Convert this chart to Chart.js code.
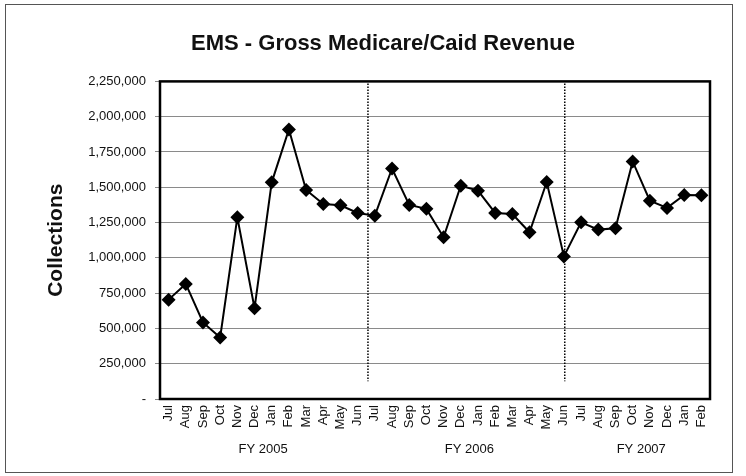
<!DOCTYPE html>
<html>
<head>
<meta charset="utf-8">
<script src="https://cdn.jsdelivr.net/npm/chart.js@4.4.1/dist/chart.umd.min.js"></script>
<style>
html, body { margin: 0; padding: 0; background: #fff; }
#wrap { width: 746px; height: 476px; }
</style>
</head>
<body>
<div id="wrap"><canvas id="chart"></canvas></div>
<script>
// month labels, Jul 2004 - Feb 2007
var months = ['Jul','Aug','Sep','Oct','Nov','Dec','Jan','Feb','Mar','Apr','May','Jun',
              'Jul','Aug','Sep','Oct','Nov','Dec','Jan','Feb','Mar','Apr','May','Jun',
              'Jul','Aug','Sep','Oct','Nov','Dec','Jan','Feb'];

// gross medicare/caid collections
var collections = [704000, 815000, 542000, 436000, 1287000, 643000, 1535000, 1909000,
                   1481000, 1382000, 1372000, 1318000, 1299000, 1633000, 1375000, 1347000,
                   1146000, 1511000, 1476000, 1318000, 1311000, 1181000, 1537000, 1010000,
                   1252000, 1200000, 1210000, 1683000, 1405000, 1354000, 1446000, 1443000];

var fiscalYears = ['FY 2005', 'FY 2006', 'FY 2007'];
var fyFirstMonth = [0, 12, 24];
var fyLastMonth = [11, 23, 31];

// dotted dividers, in category units (hand placed in the original)
var fyDividers = [11.6, 23.05];
var dividerBottomValue = 125000;

var yMin = 0;
var yMax = 2250000;
var yStep = 250000;

var fontFamily = '"Liberation Sans", Arial, sans-serif';

function formatTick(value){
    if (value == 0){
        return '-';
    }
    return value.toLocaleString('en-US');
}

var extrasPlugin = {
    id: 'extras',
    beforeDraw: function(chart){
        var ctx = chart.ctx;
        ctx.save();
        ctx.strokeStyle = '#555';
        ctx.lineWidth = 1;
        ctx.strokeRect(5.5, 4.5, 727, 468);
        ctx.restore();
    },
    beforeDatasetsDraw: function(chart){
        var ctx = chart.ctx;
        var area = chart.chartArea;
        var x = chart.scales.x;
        var y = chart.scales.y;
        ctx.save();
        ctx.strokeStyle = '#000';
        ctx.lineWidth = 1.5;
        ctx.setLineDash([1.5, 1.5]);
        for (var i = 0; i < fyDividers.length; i++){
            var px = x.getPixelForValue(fyDividers[i]);
            ctx.beginPath();
            ctx.moveTo(px, area.top + 2);
            ctx.lineTo(px, y.getPixelForValue(dividerBottomValue));
            ctx.stroke();
        }
        ctx.setLineDash([]);
        ctx.lineWidth = 2.5;
        ctx.strokeRect(area.left, area.top, area.right - area.left, area.bottom - area.top);
        ctx.restore();
    },
    afterDraw: function(chart){
        var ctx = chart.ctx;
        var x = chart.scales.x;
        ctx.save();
        ctx.fillStyle = '#111';
        ctx.font = '13px ' + fontFamily;
        ctx.textAlign = 'center';
        ctx.textBaseline = 'middle';
        for (var i = 0; i < fiscalYears.length; i++){
            var px = x.getPixelForValue((fyFirstMonth[i] + fyLastMonth[i]) / 2);
            ctx.fillText(fiscalYears[i], px, 449);
        }
        ctx.restore();
    }
};

var ctx = document.getElementById('chart').getContext('2d');
var chart = new Chart(ctx, {
    type: 'line',
    data: {
        labels: months,
        datasets: [{
            label: 'Collections',
            data: collections,
            borderColor: '#000',
            borderWidth: 2,
            backgroundColor: '#000',
            pointStyle: 'rectRot',
            pointRadius: 7,
            pointBackgroundColor: '#000',
            pointBorderColor: '#000',
            pointBorderWidth: 0,
            tension: 0
        }]
    },
    options: {
        responsive: true,
        maintainAspectRatio: false,
        animation: false,
        layout: { padding: { left: 56, right: 36, top: 0, bottom: 0 } },
        plugins: {
            legend: { display: false },
            tooltip: { enabled: false },
            title: {
                display: true,
                text: 'EMS - Gross Medicare/Caid Revenue',
                color: '#111',
                font: { family: fontFamily, size: 22, weight: 'bold' },
                padding: { top: 31, bottom: 24 }
            }
        },
        scales: {
            x: {
                type: 'category',
                offset: true,
                grid: { display: false, drawTicks: false },
                border: { display: false },
                ticks: {
                    color: '#111',
                    font: { family: fontFamily, size: 13 },
                    autoSkip: false,
                    minRotation: 90,
                    maxRotation: 90,
                    padding: 6
                },
                afterFit: function(scale){ scale.height = 77; }
            },
            y: {
                min: yMin,
                max: yMax,
                grid: { color: '#8a8a8a', lineWidth: 1, tickLength: 5 },
                border: { display: false },
                ticks: {
                    stepSize: yStep,
                    color: '#111',
                    font: { family: fontFamily, size: 13 },
                    padding: 9,
                    callback: formatTick
                },
                title: {
                    display: true,
                    text: 'Collections',
                    color: '#111',
                    font: { family: fontFamily, size: 21, weight: 'bold' },
                    padding: { top: -12.6, bottom: 0 }
                },
                afterFit: function(scale){ scale.width = 104; }
            }
        }
    },
    plugins: [extrasPlugin]
});
</script>
</body>
</html>
